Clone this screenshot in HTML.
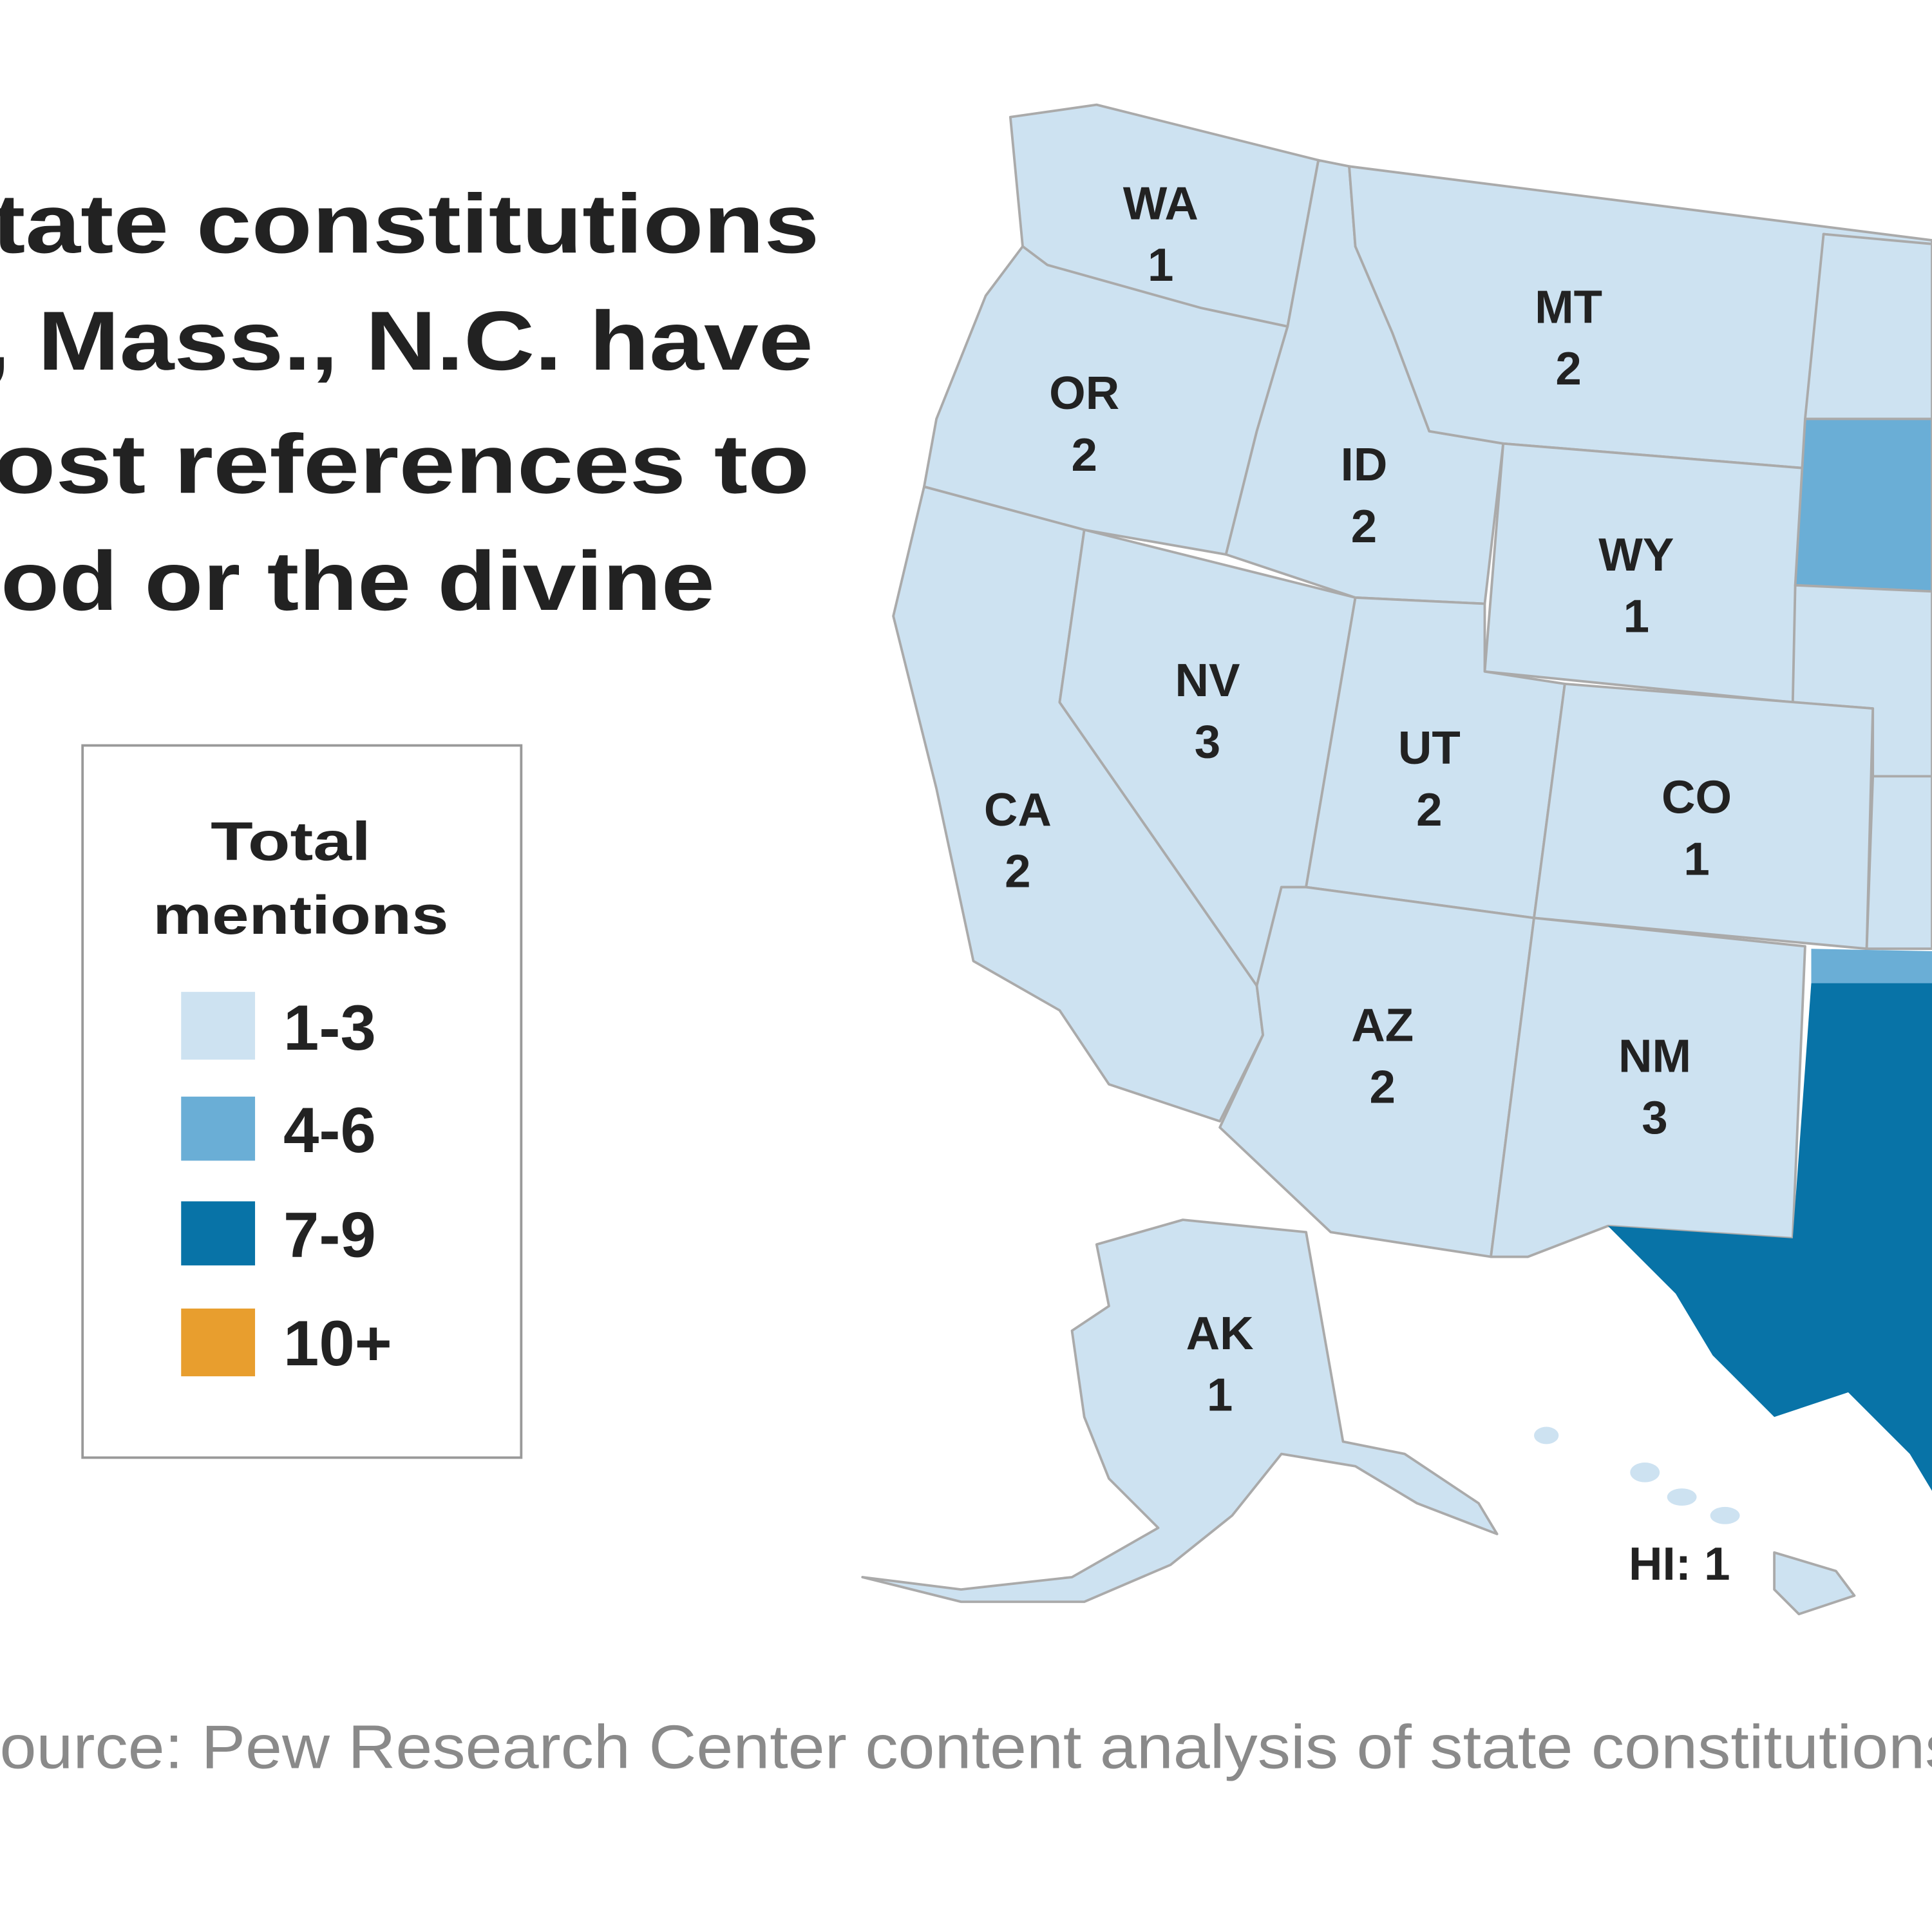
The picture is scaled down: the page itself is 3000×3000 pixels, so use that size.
<!DOCTYPE html>
<html><head><style>html,body{margin:0;padding:0;background:#fff}svg{display:block}</style></head>
<body>
<svg width="3000" height="3000" viewBox="0 0 1568 1568" xmlns="http://www.w3.org/2000/svg" font-family="Liberation Sans, sans-serif">
<rect width="1568" height="1568" fill="#fff"/>
<g font-weight="bold" font-size="68" fill="#222" text-anchor="end">
<text x="665" y="205" textLength="725" lengthAdjust="spacingAndGlyphs">State constitutions</text>
<text x="660" y="300" textLength="820" lengthAdjust="spacingAndGlyphs">Ala., Mass., N.C. have</text>
<text x="657" y="400" textLength="735" lengthAdjust="spacingAndGlyphs">most references to</text>
<text x="580" y="495" textLength="640" lengthAdjust="spacingAndGlyphs">God or the divine</text>
</g>
<rect x="67" y="605" width="356" height="578" fill="#fff" stroke="#999" stroke-width="2"/>
<g font-weight="bold" fill="#222" text-anchor="middle" font-size="44">
<text x="236" y="698" textLength="130" lengthAdjust="spacingAndGlyphs">Total</text>
<text x="244" y="758" textLength="240" lengthAdjust="spacingAndGlyphs">mentions</text>
</g>
<rect x="147" y="805" width="60" height="55" fill="#cde2f1"/>
<rect x="147" y="890" width="60" height="52" fill="#6aaed6"/>
<rect x="147" y="975" width="60" height="52" fill="#0873a7"/>
<rect x="147" y="1062" width="60" height="55" fill="#e89e2e"/>
<g font-weight="bold" fill="#222" font-size="52">
<text x="230" y="852">1-3</text>
<text x="230" y="935">4-6</text>
<text x="230" y="1020">7-9</text>
<text x="230" y="1108">10+</text>
</g>
<g stroke="#aaa" stroke-width="2" stroke-linejoin="round">
<polygon fill="#cde2f1" points="820,95 890,85 1070,130 1045,265 975,250 880,230 850,215 830,200"/>
<polygon fill="#cde2f1" points="830,200 850,215 975,250 1045,265 1020,350 995,450 880,430 750,395 760,340 800,240"/>
<polygon fill="#cde2f1" points="750,395 880,430 860,570 1020,800 1025,840 990,910 900,880 860,820 790,780 760,640 725,500"/>
<polygon fill="#cde2f1" points="880,430 1100,485 1060,720 1040,720 1020,800 860,570"/>
<polygon fill="#cde2f1" points="1070,130 1095,135 1100,200 1130,270 1160,350 1220,360 1205,490 1100,485 995,450 1020,350 1045,265"/>
<polygon fill="#cde2f1" points="1095,135 1568,195 1568,200 1480,190 1465,380 1220,360 1160,350 1130,270 1100,200"/>
<polygon fill="#cde2f1" points="1480,190 1568,198 1568,340 1465,340"/>
<polygon fill="#cde2f1" points="1220,360 1465,380 1455,570 1205,545"/>
<polygon fill="#6aaed6" points="1465,340 1568,340 1568,480 1457,475"/>
<polygon fill="#cde2f1" points="1457,475 1568,480 1568,630 1520,630 1520,575 1455,570"/>
<polygon fill="#cde2f1" points="1100,485 1205,490 1205,545 1270,555 1245,745 1060,720"/>
<polygon fill="#cde2f1" points="1270,555 1520,575 1515,770 1245,745"/>
<polygon fill="#cde2f1" points="1520,630 1568,630 1568,770 1515,770"/>
<polygon fill="#cde2f1" points="1060,720 1245,745 1210,1020 1080,1000 990,915 1025,840 1020,800 1040,720"/>
<polygon fill="#cde2f1" points="1245,745 1465,768 1455,1005 1305,995 1240,1020 1210,1020"/>
<polygon fill="#6aaed6" stroke="none" points="1470,770 1568,772 1568,800 1470,800"/>
<polygon fill="#0873a7" stroke="none" points="1470,798 1568,798 1568,1210 1550,1180 1500,1130 1440,1150 1390,1100 1360,1050 1305,995 1455,1005"/>
<polygon fill="#cde2f1" points="890,1010 960,990 1060,1000 1090,1170 1140,1180 1200,1220 1215,1245 1150,1220 1100,1190 1040,1180 1000,1230 950,1270 880,1300 780,1300 700,1280 780,1290 870,1280 940,1240 900,1200 880,1150 870,1080 900,1060"/>
<polygon fill="#cde2f1" points="1440,1260 1490,1275 1505,1295 1460,1310 1440,1290"/>
</g>
<g fill="#cde2f1"><ellipse cx="1335" cy="1195" rx="12" ry="8"/><ellipse cx="1365" cy="1215" rx="12" ry="7"/><ellipse cx="1400" cy="1230" rx="12" ry="7"/><ellipse cx="1255" cy="1165" rx="10" ry="7"/></g>
<g font-weight="bold" fill="#222" text-anchor="middle" font-size="38">
<text x="942" y="178">WA</text><text x="942" y="228">1</text>
<text x="880" y="332">OR</text><text x="880" y="382">2</text>
<text x="826" y="670">CA</text><text x="826" y="720">2</text>
<text x="980" y="565">NV</text><text x="980" y="615">3</text>
<text x="1107" y="390">ID</text><text x="1107" y="440">2</text>
<text x="1273" y="262">MT</text><text x="1273" y="312">2</text>
<text x="1328" y="463">WY</text><text x="1328" y="513">1</text>
<text x="1160" y="620">UT</text><text x="1160" y="670">2</text>
<text x="1377" y="660">CO</text><text x="1377" y="710">1</text>
<text x="1122" y="845">AZ</text><text x="1122" y="895">2</text>
<text x="1343" y="870">NM</text><text x="1343" y="920">3</text>
<text x="990" y="1095">AK</text><text x="990" y="1145">1</text>
<text x="1363" y="1282">HI: 1</text>
</g>
<text x="-36" y="1435" font-size="50" fill="#8a8a8a" textLength="1640" lengthAdjust="spacingAndGlyphs">Source: Pew Research Center content analysis of state constitutions.</text>
</svg>
</body></html>
